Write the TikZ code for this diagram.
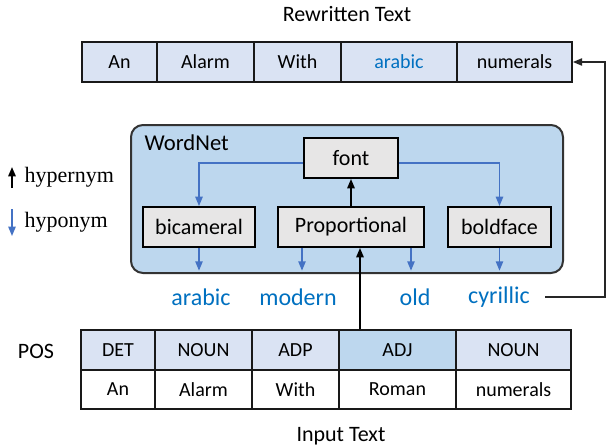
\documentclass[tikz,border=0pt]{standalone}
\usepackage{fontspec}
\setmainfont{Carlito}
\newfontfamily\legendfont{Liberation Serif}
\usepackage{tikz}
\usetikzlibrary{arrows.meta}
\definecolor{tabfill}{HTML}{DAE3F3}
\definecolor{wnfill}{HTML}{BDD7EE}
\definecolor{boxfill}{HTML}{E7E6E6}
\definecolor{hypoblue}{HTML}{4472C4}
\definecolor{wordblue}{HTML}{0070C0}
\tikzset{
	cell/.style={draw=black!90, line width=1.3pt, fill=tabfill, inner sep=0pt, minimum height=30pt, font=\fontsize{15}{18}\selectfont},
	wordbox/.style={draw=black, line width=1.4pt, fill=boxfill, inner sep=0pt, minimum height=30pt, font=\fontsize{16.5}{20}\selectfont},
	cand/.style={text=wordblue, font=\fontsize{18}{22}\selectfont},
	title/.style={font=\fontsize{16.5}{20}\selectfont},
	hypo/.style={draw=hypoblue, line width=1.1pt, -{Triangle[length=7pt,width=5.5pt]}},
	hyper/.style={draw=black, line width=1.3pt, -{Triangle[length=7pt,width=5.5pt]}}
}
\begin{document}
\begin{tikzpicture}[x=0.75pt,y=-0.75pt]
	\useasboundingbox (0,0) rectangle (608,446);
	% rewritten text
	\node[title] (outtitle) at (347,14) {Rewritten Text};
	\node[cell, minimum width=56.25pt] (o1) at (119.5,62) {An};
	\node[cell, minimum width=72.75pt] (o2) at (205.5,62) {Alarm};
	\node[cell, minimum width=65.25pt] (o3) at (297.5,62) {With};
	\node[cell, minimum width=87pt, text=wordblue] (o4) at (399,62) {arabic};
	\node[cell, minimum width=86.25pt] (o5) at (514.5,62) {numerals};
	% wordnet
	\node[draw=black!80, line width=1.5pt, fill=wnfill, rounded corners=9pt, minimum width=324pt, minimum height=111pt] (wn) at (347,199) {};
	\node[anchor=west, font=\fontsize{17}{20}\selectfont] (wntitle) at (140,143) {WordNet};
	\node[wordbox, minimum width=70.5pt] (font) at (351,158) {font};
	\node[wordbox, minimum width=84pt] (bicam) at (199,227) {bicameral};
	\node[wordbox, minimum width=109.5pt] (prop) at (351,227) {Proportional};
	\node[wordbox, minimum width=77.25pt] (bold) at (499.5,227) {boldface};
	\draw[hypo] ([yshift=-3.75pt]font.west) -| (bicam.north);
	\draw[hypo] ([yshift=-3.75pt]font.east) -| (bold.north);
	\draw[hyper] (prop.north -| font.south) -- (font.south);
	\draw[hypo, shorten >=2.5pt] (bicam.south) -- (bicam.south |- wn.south);
	\draw[hypo, shorten >=2.5pt] ([xshift=-36.75pt]prop.south) -- ([xshift=-36.75pt]prop.south |- wn.south);
	\draw[hypo, shorten >=2.5pt] ([xshift=45pt]prop.south) -- ([xshift=45pt]prop.south |- wn.south);
	\draw[hypo, shorten >=2.5pt] (bold.south) -- (bold.south |- wn.south);
	% candidates
	\node[cand] (arabic) at (201,297) {arabic};
	\node[cand] (modern) at (298,297) {modern};
	\node[cand] (old) at (415,297) {old};
	\node[cand] (cyril) at (499,297) {cyrillic};
	\coordinate (turn) at (605,0);
	\draw[black!85, line width=1.1pt, shorten <=8pt, -{Triangle[length=7pt,width=5.5pt]}] (cyril.east) -- (cyril.east -| turn) |- (o5.east);
	% legend
	\coordinate (hyperbot) at (12,188);
	\coordinate (hypertop) at (12,167);
	\coordinate (hypotop) at (12,209);
	\coordinate (hypobot) at (12,236);
	\draw[hyper] (hyperbot) -- (hypertop);
	\draw[hypo] (hypotop) -- (hypobot);
	\node[anchor=west, font=\legendfont\fontsize{16.5}{20}\selectfont] (hypername) at (20,177) {hypernym};
	\node[anchor=west, font=\legendfont\fontsize{16.5}{20}\selectfont] (hyponame) at (20,222) {hyponym};
	% input text
	\node[title] (pos) at (36,351) {POS};
	\node[cell, minimum width=55.5pt] (p1) at (118,350) {DET};
	\node[cell, minimum width=72.75pt] (p2) at (203.5,350) {NOUN};
	\node[cell, minimum width=65.25pt] (p3) at (295.5,350) {ADP};
	\node[cell, minimum width=87.75pt, fill=wnfill] (p4) at (397.5,350) {ADJ};
	\node[cell, minimum width=86.25pt] (p5) at (513.5,350) {NOUN};
	\node[cell, fill=white, minimum width=55.5pt, minimum height=29.25pt] (i1) at (118,389.5) {An};
	\node[cell, fill=white, minimum width=72.75pt, minimum height=29.25pt] (i2) at (203.5,389.5) {Alarm};
	\node[cell, fill=white, minimum width=65.25pt, minimum height=29.25pt] (i3) at (295.5,389.5) {With};
	\node[cell, fill=white, minimum width=87.75pt, minimum height=29.25pt] (i4) at (397.5,389.5) {Roman};
	\node[cell, fill=white, minimum width=86.25pt, minimum height=29.25pt] (i5) at (513.5,389.5) {numerals};
	\node[title] (intitle) at (341,436) {Input Text};
	\coordinate (feed) at (360,0);
	\draw[hyper] (feed |- p4.north) -- (feed |- prop.south);
\end{tikzpicture}
\end{document}
